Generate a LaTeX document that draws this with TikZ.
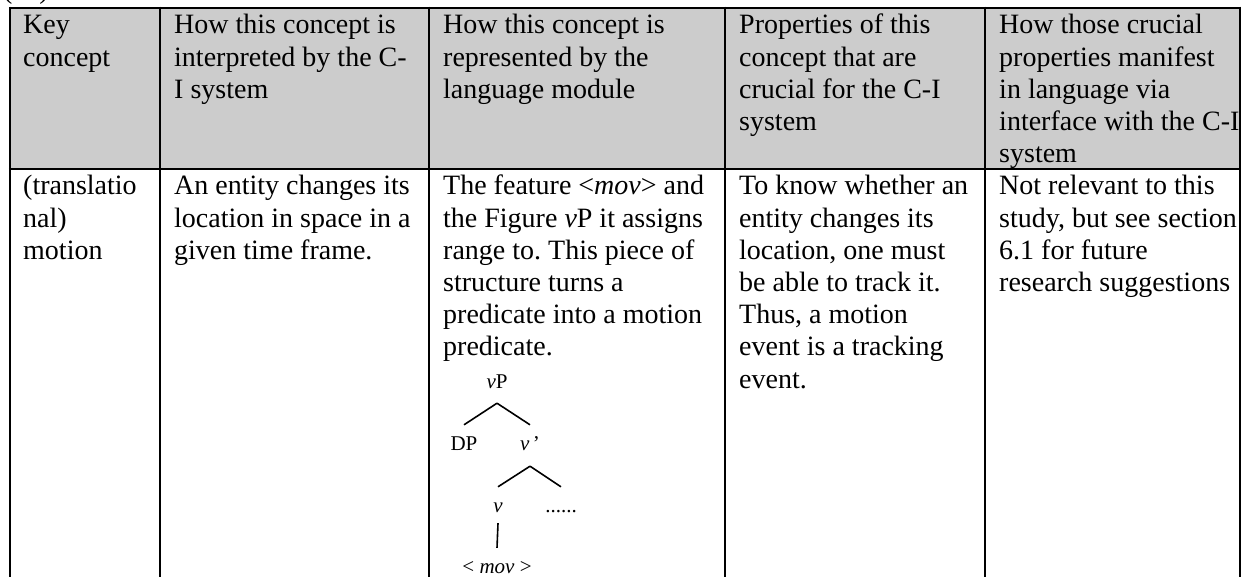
\documentclass[tikz,border=0pt]{standalone}
\usepackage{fontspec}
\setmainfont{Liberation Serif}
\frenchspacing
\definecolor{hdrgray}{RGB}{204,204,204}
\newcommand\celltext[1]{\parbox[t]{400pt}{\raggedright #1}}
\begin{document}
\begin{tikzpicture}[x=1pt,y=-1pt,
  cell/.style={anchor=base west, inner sep=0pt, font=\fontsize{28}{32.2}\selectfont},
  tn/.style={anchor=base, inner sep=0pt, text height=14pt, text depth=4pt, font=\fontsize{21}{24}\selectfont},
  rulestyle/.style={line width=2.5pt},
  branch/.style={line width=1.6pt}]
\useasboundingbox (0,0) rectangle (1246,577);
\clip (0,0) rectangle (1246,577);
% header background
\fill[hdrgray] (10,8) rectangle (1240,169);
% table rules
\draw[rulestyle] (8.75,8) -- (1241.25,8);
\draw[rulestyle] (8.75,169) -- (1241.25,169);
\foreach \xx in {10,160,429,725,985,1240}
  \draw[rulestyle] (\xx,6.75) -- (\xx,590);
% number above table (cut off)
\node[cell] (num) at (3,-1) {(11)};
% header cells
\node[cell] (h1) at (23,34) {\celltext{Key\\concept}};
\node[cell] (h2) at (174,34) {\celltext{How this concept is\\interpreted by the C-\\I system}};
\node[cell] (h3) at (443,34) {\celltext{How this concept is\\represented by the\\language module}};
\node[cell] (h4) at (739,34) {\celltext{Properties of this\\concept that are\\crucial for the C-I\\system}};
\node[cell] (h5) at (999,34) {\celltext{How those crucial\\properties manifest\\in language via\\interface with the C-I\\system}};
% body cells
\node[cell] (b1) at (23,195) {\celltext{(translatio\\nal)\\motion}};
\node[cell] (b2) at (174,195) {\celltext{An entity changes its\\location in space in a\\given time frame.}};
\node[cell] (b3) at (443,195) {\celltext{The feature <\textit{mov}> and\\the Figure \textit{v}P it assigns\\range to. This piece of\\structure turns a\\predicate into a motion\\predicate.}};
\node[cell] (b4) at (739,195) {\celltext{To know whether an\\entity changes its\\location, one must\\be able to track it.\\Thus, a motion\\event is a tracking\\event.}};
\node[cell] (b5) at (999,195) {\celltext{Not relevant to this\\study, but see section\\6.1 for future\\research suggestions}};
% tree
\node[tn] (vP) at (497,388) {\textit{v}P};
\node[tn] (DP) at (464,450) {DP};
\node[tn] (vbar) at (530,450) {\textit{v}\,'};
\node[tn] (v) at (498,512) {\textit{v}};
\node[tn] (dots) at (561,512) {......};
\node[tn] (mov) at (497,573) {< \textit{mov} >};
\draw[branch] ([yshift=-11pt]vP.south) -- ([yshift=11pt]DP.north);
\draw[branch] ([yshift=-11pt]vP.south) -- ([yshift=11pt]vbar.north);
\draw[branch] ([yshift=-12pt]vbar.south) -- ([yshift=11pt]v.north);
\draw[branch] ([yshift=-12pt]vbar.south) -- ([yshift=11pt]dots.north);
\draw[branch] ([yshift=-7pt]v.south) -- ([yshift=11pt]mov.north);
\end{tikzpicture}
\end{document}
